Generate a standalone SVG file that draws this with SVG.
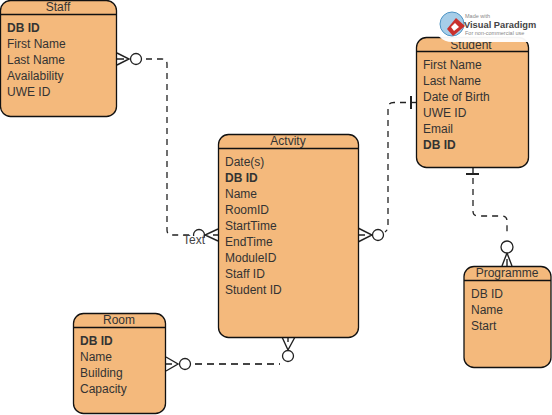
<svg xmlns="http://www.w3.org/2000/svg" width="552" height="415" viewBox="0 0 552 415">
<style>
.box{fill:#f4b97c;stroke:#111;stroke-width:1.3}
.hd{stroke:#111;stroke-width:1.3}
text{font-family:"Liberation Sans",Arial,sans-serif;font-size:12px;fill:#333}
.t{text-anchor:middle}
.b{font-weight:bold}
.dash{fill:none;stroke:#222;stroke-width:1.3;stroke-dasharray:6 5}
.end{fill:none;stroke:#222;stroke-width:1.4}
.c{fill:#fff;stroke:#222;stroke-width:1.3}
</style>
<g id="connectors">
<path class="dash" d="M146 59H162Q167 59 167 64V230Q167 235 172 235H192"/>
<path class="dash" d="M406 102.500H394Q388 102.500 388 108V226Q388 230 385 232"/>
<path class="dash" d="M473 178V211Q473 216 478 216H502Q507 216 507 221V236"/>
<path class="dash" d="M195 364H280" style="stroke:#444;stroke-width:2;stroke-dasharray:7 5"/>
<g id="end-staff"><path class="end" d="M117 53L129 59L117 65M117 59H124"/><circle class="c" cx="136" cy="59" r="5.500"/></g>
<g id="end-activity-left"><circle class="c" cx="199" cy="235" r="5.500"/><rect x="184" y="236" width="20" height="10" fill="#fff"/><path class="end" d="M218 229L205 235L218 241M218 235H213"/></g>
<g id="end-activity-right"><path class="end" d="M358 228L372 235L358 242M358 235H365"/><circle class="c" cx="378" cy="235" r="5.500"/></g>
<g id="end-activity-bottom"><path class="end" d="M282 337L288 350L295 337M288 337V342"/><circle class="c" cx="288" cy="356" r="5.500"/></g>
<g id="end-room"><path class="end" d="M166 357L178 364L166 371M166 364H172"/><circle class="c" cx="185" cy="364" r="5.500"/></g>
<g id="end-programme"><path class="end" d="M502 266L507 253L512 266M507 266V259"/><circle class="c" cx="507" cy="247" r="6"/></g>
<path class="end" style="stroke-width:2" d="M411 96V109"/>
<path class="end" d="M411 102.500H417"/>
<path class="end" style="stroke-width:2" d="M466 174H479"/>
<path class="end" d="M473 168V174"/>
<text x="194" y="244" class="t" style="fill:#444">Text</text>
</g>
<g id="staff">
<rect class="box" x="0.5" y="0.5" width="116" height="116" rx="10"/>
<path class="hd" d="M0.5 14.500H116.500"/>
<text x="58" y="11" class="t">Staff</text>
<text x="7" y="32" class="b">DB ID</text>
<text x="7" y="48">First Name</text>
<text x="7" y="64">Last Name</text>
<text x="7" y="80">Availability</text>
<text x="7" y="96">UWE ID</text>
</g>
<g id="student">
<rect class="box" x="416.5" y="37.5" width="112" height="130" rx="10"/>
<path class="hd" d="M416.5 51.500H528.500"/>
<text x="471" y="49" class="t">Student</text>
<text x="423" y="69">First Name</text>
<text x="423" y="85">Last Name</text>
<text x="423" y="101">Date of Birth</text>
<text x="423" y="117">UWE ID</text>
<text x="423" y="133">Email</text>
<text x="423" y="149" class="b">DB ID</text>
</g>
<g id="activity">
<rect class="box" x="218.5" y="134.5" width="140" height="203" rx="10"/>
<path class="hd" d="M218.500 148.500H358.500"/>
<text x="288" y="145" class="t">Actvity</text>
<text x="225" y="166">Date(s)</text>
<text x="225" y="182" class="b">DB ID</text>
<text x="225" y="198">Name</text>
<text x="225" y="214">RoomID</text>
<text x="225" y="230">StartTime</text>
<text x="225" y="246">EndTime</text>
<text x="225" y="262">ModuleID</text>
<text x="225" y="278">Staff ID</text>
<text x="225" y="294">Student ID</text>
</g>
<g id="room">
<rect class="box" x="73.5" y="313.5" width="92" height="100" rx="10"/>
<path class="hd" d="M73.500 327.500H165.500"/>
<text x="119" y="324" class="t">Room</text>
<text x="80" y="345" class="b">DB ID</text>
<text x="80" y="361">Name</text>
<text x="80" y="377">Building</text>
<text x="80" y="393">Capacity</text>
</g>
<g id="programme">
<rect class="box" x="464" y="266.5" width="87" height="101" rx="10"/>
<path class="hd" d="M464 280.500H551"/>
<text x="507" y="277" class="t">Programme</text>
<text x="471" y="298">DB ID</text>
<text x="471" y="314">Name</text>
<text x="471" y="330">Start</text>
</g>
<g id="watermark">
<rect x="434" y="6" width="113" height="36" rx="18" fill="#fff" opacity="0.96"/>
<circle cx="452" cy="24" r="12" fill="#a6cde8" stroke="#4d94c4"/>
<path d="M456 18L465 26L453 36L447 29Z" fill="#c9302c"/>
<path d="M455 23L459 27L454 31L451 27Z" fill="#fff"/>
<text x="465" y="18" style="font-size:5.500px;fill:#888">Made with</text>
<text x="464" y="28" style="font-size:9.300px;font-weight:bold;fill:#444">Visual Paradigm</text>
<text x="465" y="35" style="font-size:5.500px;fill:#888">For non-commercial use</text>
</g>
</svg>
